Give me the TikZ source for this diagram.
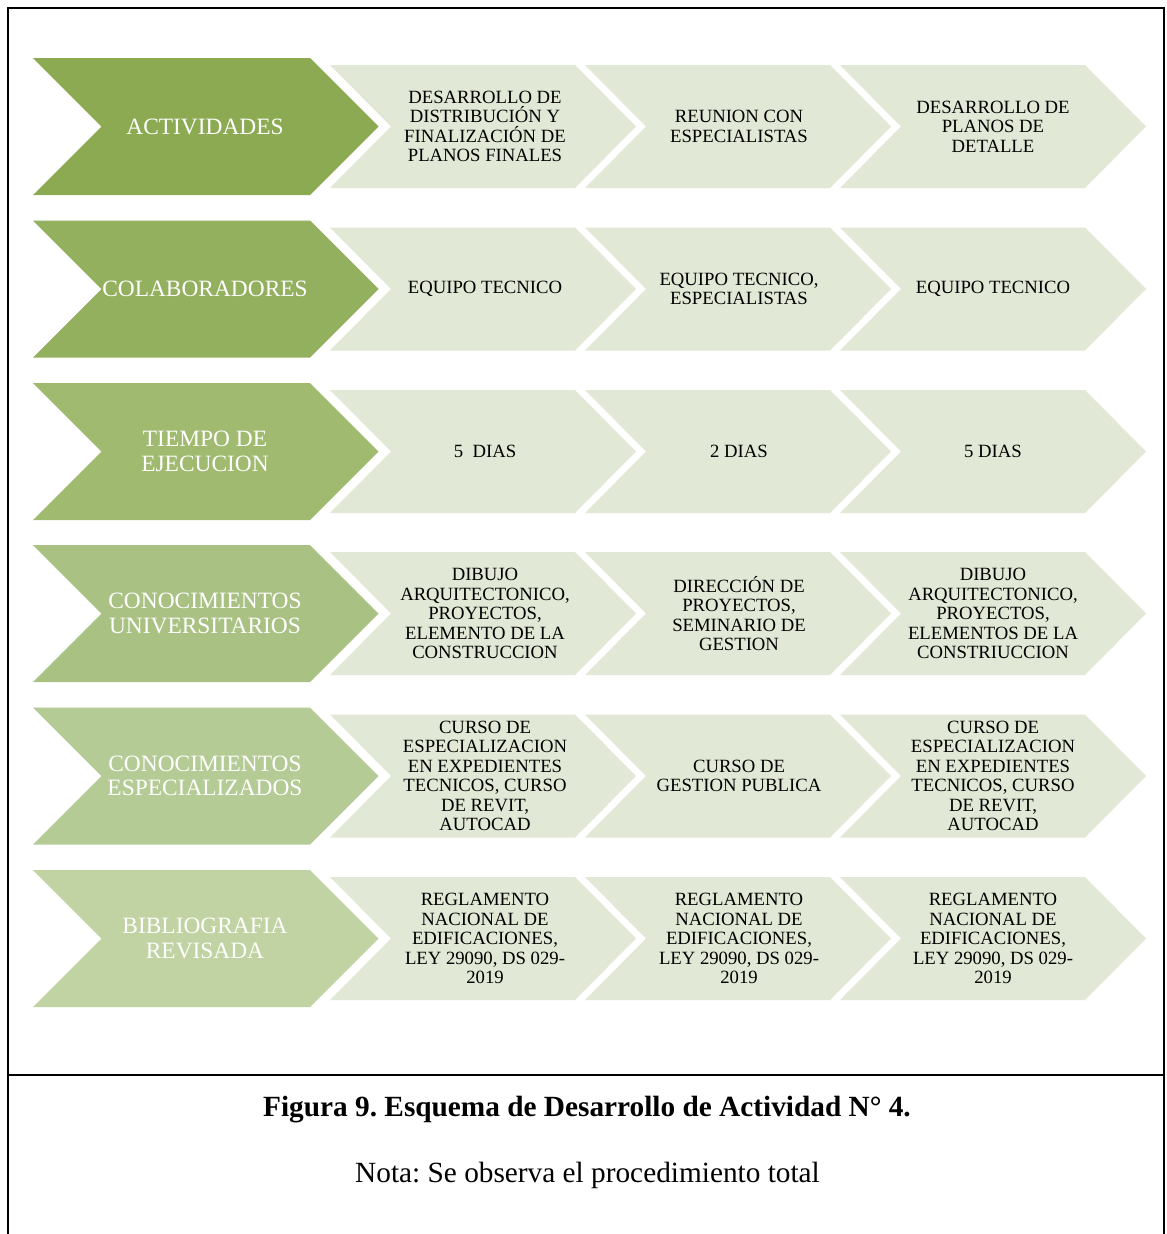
\documentclass[tikz,border=0pt]{standalone}
\usepackage{fontspec}
\setmainfont{Liberation Serif}
\frenchspacing
\definecolor{gA}{HTML}{8BAA52}
\definecolor{gB}{HTML}{93B05F}
\definecolor{gC}{HTML}{A0BA70}
\definecolor{gD}{HTML}{A9C283}
\definecolor{gE}{HTML}{B5CB95}
\definecolor{gF}{HTML}{C1D3A3}
\definecolor{lite}{HTML}{E1E8D5}
\tikzset{
  bigtxt/.style={text=white, font=\fontsize{23.4}{24.5}\selectfont, align=center, inner sep=0pt},
  smalltxt/.style={text=black, font=\fontsize{18.7}{19.5}\selectfont, align=center, inner sep=0pt},
  framed/.style={line width=2pt, black},
}
\begin{document}
\begin{tikzpicture}[x=1pt,y=-1pt]
\useasboundingbox (0,0) rectangle (1167,1234);
\fill[white] (0,0) rectangle (1167,1234);
% frame
\draw[framed] (8,1234) -- (8,8) -- (1164,8) -- (1164,1234);
\draw[framed] (8,1075) -- (1164,1075);
% chevrons
\foreach \c/\col in {126.5/gA,289/gB,451.5/gC,613.5/gD,776/gE,938.5/gF}{
  \fill[\col] (33,\c-68.5) -- (310,\c-68.5) -- (378.5,\c) -- (310,\c+68.5) -- (33,\c+68.5) -- (101.5,\c) -- cycle;
  \foreach \L in {330,585,840}{
    \fill[lite] (\L,\c-61.5) -- ++(245,0) -- ++(61,61.5) -- ++(-61,61.5) -- ++(-245,0) -- ++(61,-61.5) -- cycle;
  }
}
% row labels
\node[bigtxt] (r1) at (205,126.5) {ACTIVIDADES};
\node[bigtxt] (r2) at (205,289) {COLABORADORES};
\node[bigtxt] (r3) at (205,451.5) {TIEMPO DE\\EJECUCION};
\node[bigtxt] (r4) at (205,613.5) {CONOCIMIENTOS\\UNIVERSITARIOS};
\node[bigtxt] (r5) at (205,776) {CONOCIMIENTOS\\ESPECIALIZADOS};
\node[bigtxt] (r6) at (205,938.5) {BIBLIOGRAFIA\\REVISADA};
% row 1
\node[smalltxt] (a1) at (485,126.5) {DESARROLLO DE\\DISTRIBUCIÓN Y\\FINALIZACIÓN DE\\PLANOS FINALES};
\node[smalltxt] (a2) at (739,126.5) {REUNION CON\\ESPECIALISTAS};
\node[smalltxt] (a3) at (993,126.5) {DESARROLLO DE\\PLANOS DE\\DETALLE};
% row 2
\node[smalltxt] (b1) at (485,289) {EQUIPO TECNICO};
\node[smalltxt] (b2) at (739,289) {EQUIPO TECNICO,\\ESPECIALISTAS};
\node[smalltxt] (b3) at (993,289) {EQUIPO TECNICO};
% row 3
\node[smalltxt] (c1) at (485,451.5) {5\ \ DIAS};
\node[smalltxt] (c2) at (739,451.5) {2 DIAS};
\node[smalltxt] (c3) at (993,451.5) {5 DIAS};
% row 4
\node[smalltxt] (d1) at (485,613.5) {DIBUJO\\ARQUITECTONICO,\\PROYECTOS,\\ELEMENTO DE LA\\CONSTRUCCION};
\node[smalltxt] (d2) at (739,613.5) {DIRECCIÓN DE\\PROYECTOS,\\SEMINARIO DE\\GESTION};
\node[smalltxt] (d3) at (993,613.5) {DIBUJO\\ARQUITECTONICO,\\PROYECTOS,\\ELEMENTOS DE LA\\CONSTRIUCCION};
% row 5
\node[smalltxt] (e1) at (485,776) {CURSO DE\\ESPECIALIZACION\\EN EXPEDIENTES\\TECNICOS, CURSO\\DE REVIT,\\AUTOCAD};
\node[smalltxt] (e2) at (739,776) {CURSO DE\\GESTION PUBLICA};
\node[smalltxt] (e3) at (993,776) {CURSO DE\\ESPECIALIZACION\\EN EXPEDIENTES\\TECNICOS, CURSO\\DE REVIT,\\AUTOCAD};
% row 6
\node[smalltxt] (f1) at (485,938.5) {REGLAMENTO\\NACIONAL DE\\EDIFICACIONES,\\LEY 29090, DS 029-\\2019};
\node[smalltxt] (f2) at (739,938.5) {REGLAMENTO\\NACIONAL DE\\EDIFICACIONES,\\LEY 29090, DS 029-\\2019};
\node[smalltxt] (f3) at (993,938.5) {REGLAMENTO\\NACIONAL DE\\EDIFICACIONES,\\LEY 29090, DS 029-\\2019};
% caption
\node[font=\fontsize{29.3}{32}\selectfont\bfseries, inner sep=0pt] (cap) at (587,1110) {Figura 9. Esquema de Desarrollo de Actividad N° 4.};
\node[font=\fontsize{29.3}{32}\selectfont, inner sep=0pt] (nota) at (587.5,1175) {Nota: Se observa el procedimiento total};
\end{tikzpicture}
\end{document}
